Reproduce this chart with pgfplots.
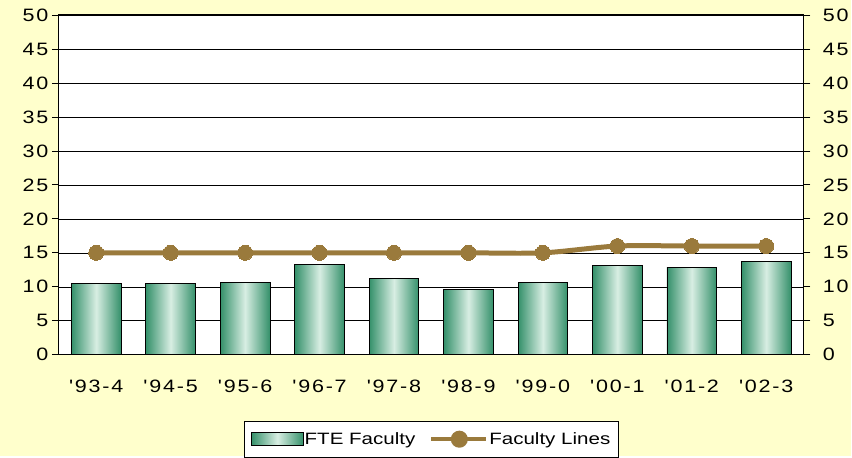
\documentclass[border=0pt]{standalone}
\usepackage{fontspec}
\setmainfont{Liberation Sans}[FakeStretch=1.25]
\newfontfamily\tickfont{Liberation Sans}[FakeStretch=1.2,LetterSpace=10,Ligatures=TeXOff]
\newfontfamily\legfontfam{Liberation Sans}[FakeStretch=1.25]
\newcommand\legfont{\legfontfam\fontsize{16.5}{19}\selectfont}
\usepackage{pgfplots}
\pgfplotsset{compat=1.18}
\definecolor{bg}{HTML}{FFFFCC}
\definecolor{barDark}{HTML}{34906A}
\definecolor{barLight}{HTML}{D8EEE3}
\definecolor{lineBrown}{HTML}{9A7A3C}
\pgfplotsset{
  mytick/.style={
    /pgf/number format/assume math mode=true,
    ticklabel style={font=\tickfont\fontsize{18}{20}\selectfont},
  },
  mybar/.style={ybar, bar width=0.667, draw=black, line width=0.8bp,
    left color=barDark, right color=barDark, middle color=barLight},
}
\begin{document}
\begin{tikzpicture}
\fill[bg] (0,0) rectangle (852bp,456bp);
\begin{axis}[
  mytick,
  at={(59bp,101bp)}, anchor=south west,
  scale only axis, width=745bp, height=340bp,
  xmin=-0.5, xmax=9.5, ymin=0, ymax=50,
  axis background/.style={fill=white},
  axis line style={black, line width=1bp},
  ytick={0,5,...,50},
  ytick pos=left, xtick pos=bottom,
  tick align=outside, major tick length=7bp,
  tick style={black, line width=0.8bp},
  ymajorgrids, major grid style={black, line width=0.6bp},
  xtick={0,...,9},
  xticklabels={'93-4,'94-5,'95-6,'96-7,'97-8,'98-9,'99-0,'00-1,'01-2,'02-3},
  xticklabel style={yshift=-15bp},
  xtick style={draw=none},
  extra x ticks={-0.5,0.5,1.5,2.5,3.5,4.5,5.5,6.5,7.5,8.5,9.5},
  extra x tick labels={},
  extra x tick style={tick align=center, major tick length=12bp, grid=none, tick style={draw=black, line width=0.8bp}},
  legend style={at={(0.5,-0.2485)}, anchor=center, draw=black, fill=white,
    inner xsep=7bp, inner ysep=9.5bp, line width=0.8bp,
    nodes={font=\legfont, inner sep=1bp},
    /tikz/every even column/.append style={column sep=13bp}},
  legend columns=2,
]
\addplot[mybar, legend image code/.code={\draw[black, line width=0.6bp, left color=barDark, right color=barDark, middle color=barLight] (0bp,-6.5bp) rectangle (52bp,6.5bp);}]
  coordinates {(0,10.5)};
\addlegendentry{FTE Faculty}
\addplot[mybar, forget plot] coordinates {(1,10.5)};
\addplot[mybar, forget plot] coordinates {(2,10.7)};
\addplot[mybar, forget plot] coordinates {(3,13.3)};
\addplot[mybar, forget plot] coordinates {(4,11.2)};
\addplot[mybar, forget plot] coordinates {(5,9.6)};
\addplot[mybar, forget plot] coordinates {(6,10.7)};
\addplot[mybar, forget plot] coordinates {(7,13.2)};
\addplot[mybar, forget plot] coordinates {(8,12.9)};
\addplot[mybar, forget plot] coordinates {(9,13.7)};
\addplot[lineBrown, line width=5bp, smooth, mark=*, mark size=7.5bp,
  mark options={fill=lineBrown, draw=lineBrown, line width=0pt},
  legend image code/.code={\draw[lineBrown, line width=4bp] (0bp,0bp) -- (55bp,0bp); \fill[lineBrown] (28bp,0bp) circle (6bp);}]
  coordinates {(0,15) (1,15) (2,15) (3,15) (4,15) (5,15) (6,15) (7,16) (8,16) (9,16)};
\addlegendentry{Faculty Lines\hspace{8bp}}
\end{axis}
\begin{axis}[
  mytick,
  at={(59bp,101bp)}, anchor=south west,
  scale only axis, width=745bp, height=340bp,
  xmin=-0.5, xmax=9.5, ymin=0, ymax=50,
  axis y line*=right, axis x line=none,
  axis line style={black, line width=1bp},
  ytick={0,5,...,50},
  yticklabel style={xshift=9bp},
  tick align=outside, major tick length=7bp,
  tick style={black, line width=0.8bp},
]
\end{axis}
\end{tikzpicture}
\end{document}
